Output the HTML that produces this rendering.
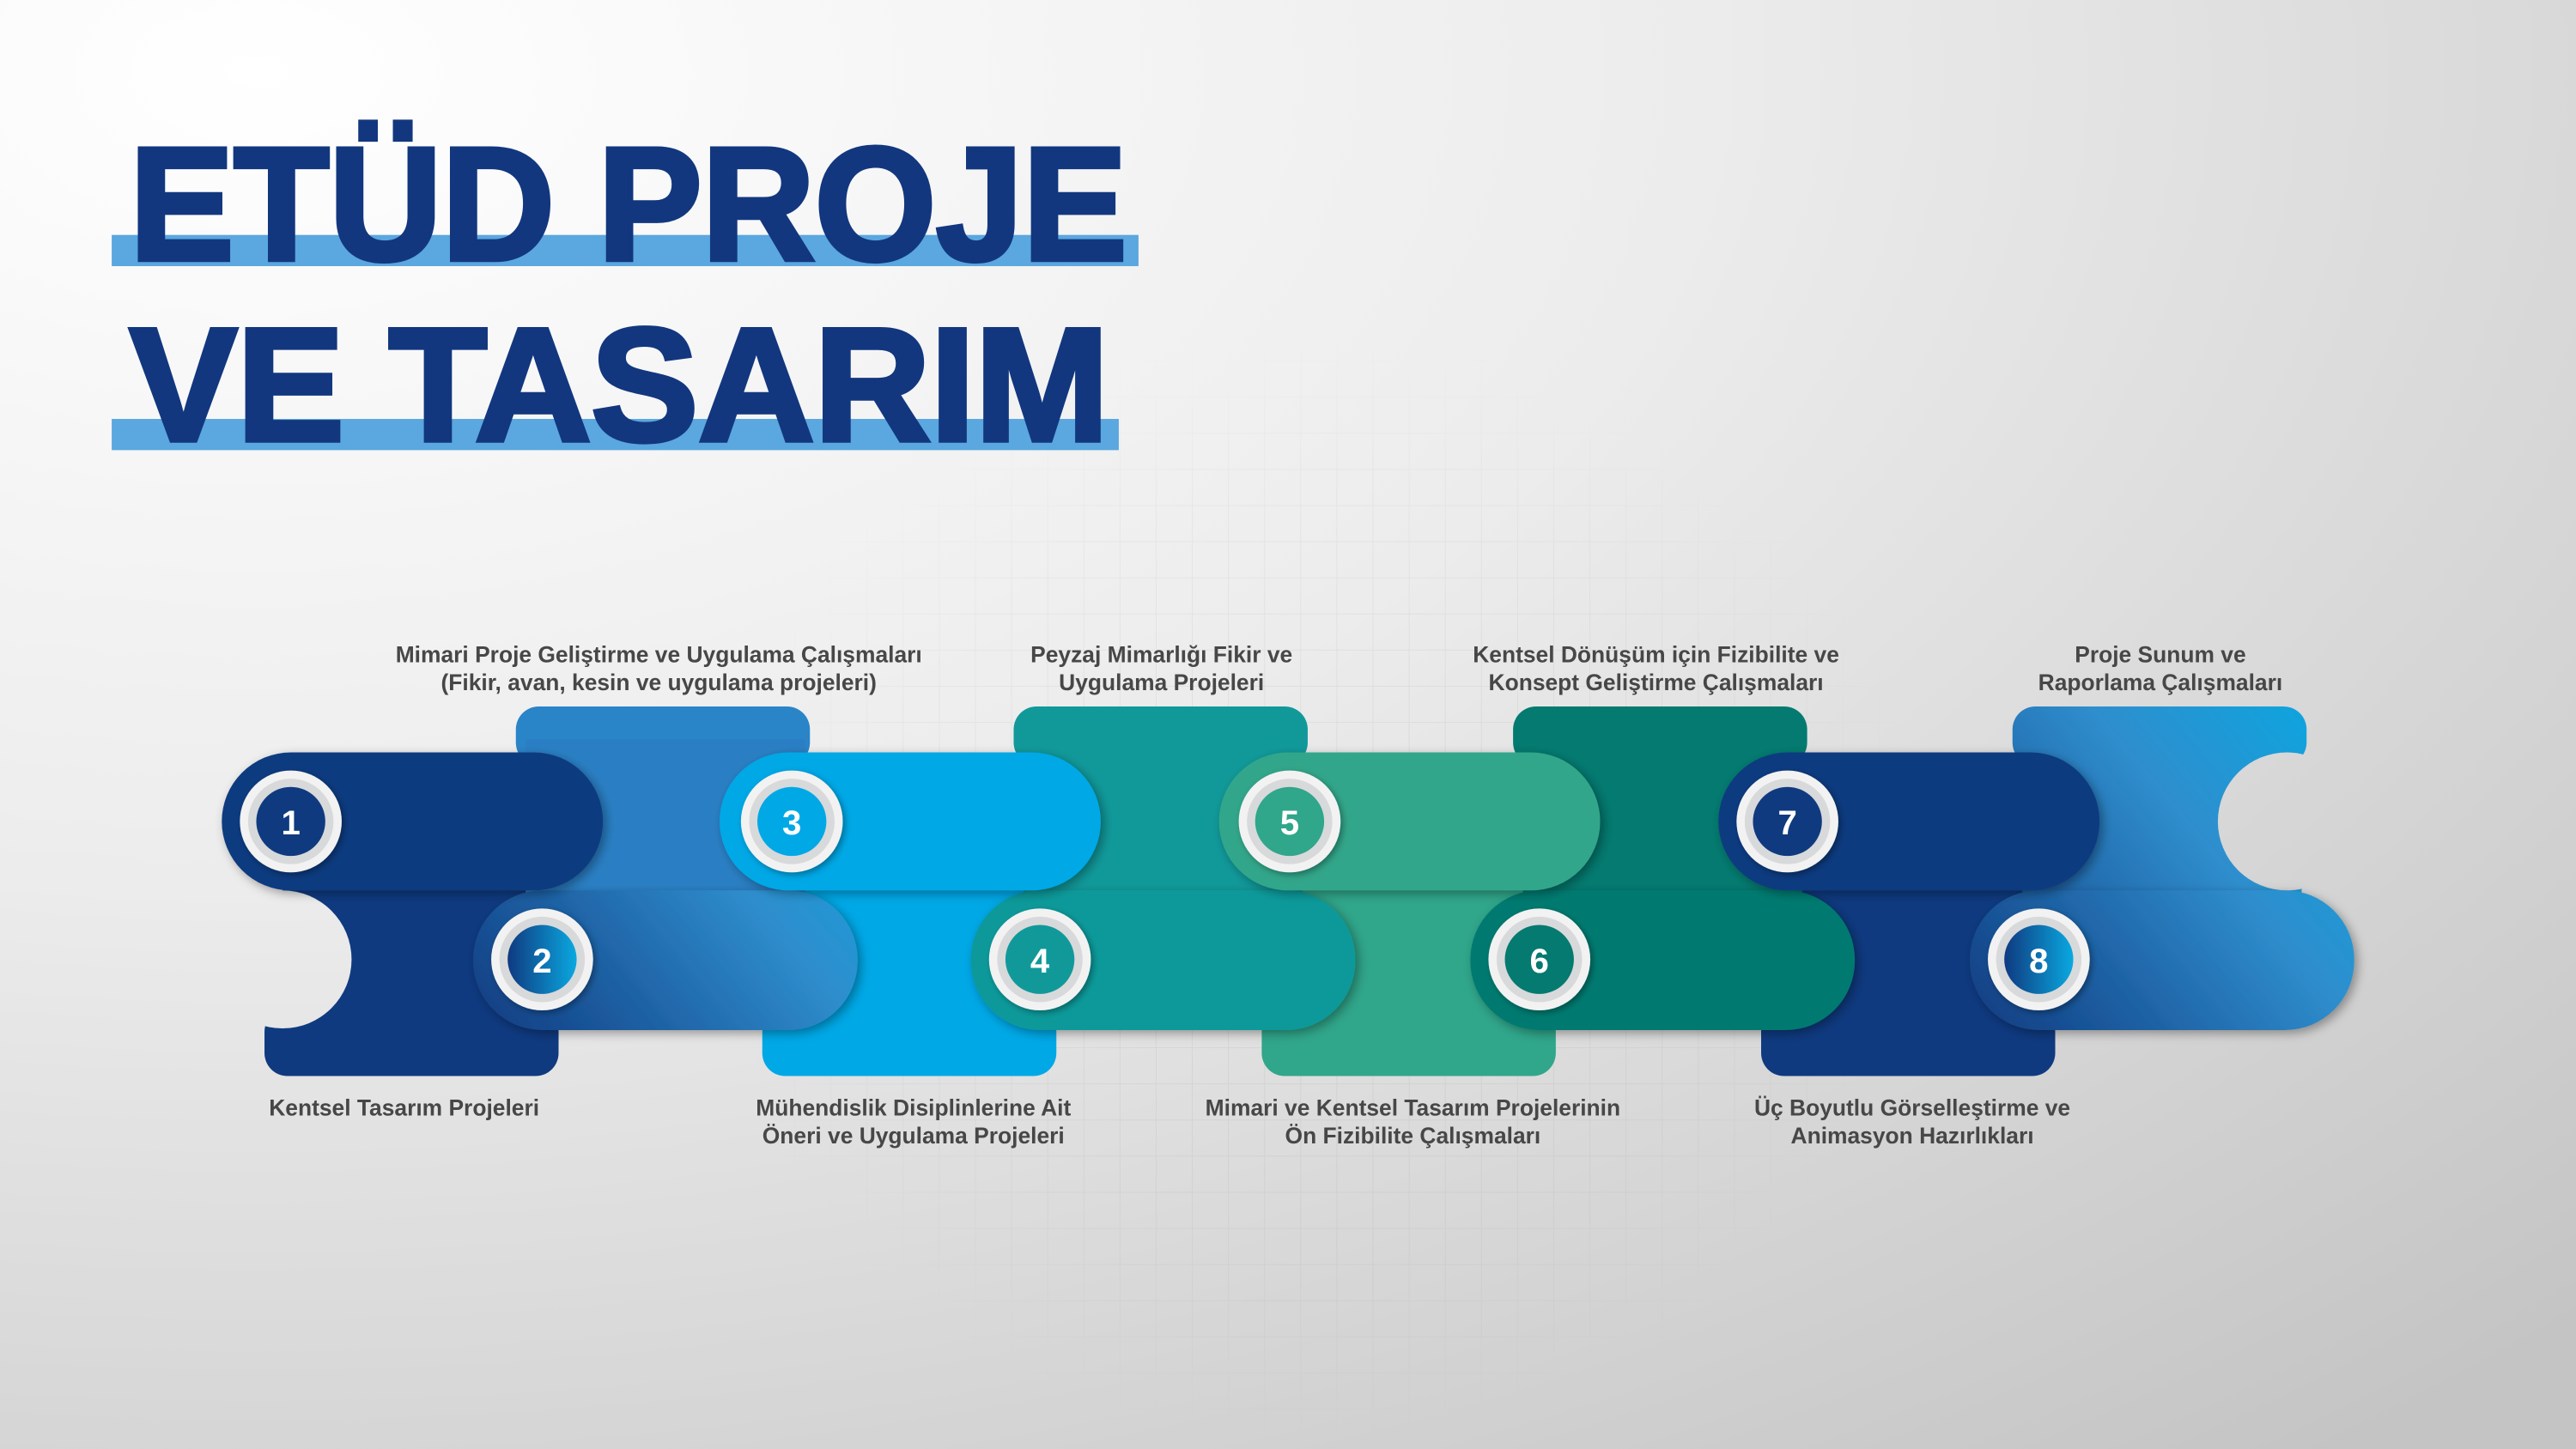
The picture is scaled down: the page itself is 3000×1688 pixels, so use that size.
<!DOCTYPE html>
<html><head><meta charset="utf-8"><style>
html,body{margin:0;padding:0;background:#fff}
svg{display:block}
</style></head><body>
<svg width="3000" height="1688" viewBox="0 0 1568 882" preserveAspectRatio="none" xmlns="http://www.w3.org/2000/svg">
<defs>
<radialGradient id="bg" cx="0.1" cy="0.05" r="1.25" gradientUnits="objectBoundingBox">
<stop offset="0" stop-color="#ffffff"/><stop offset="0.45" stop-color="#ececec"/><stop offset="1" stop-color="#c4c4c4"/>
</radialGradient>
<pattern id="grid" width="22" height="22" patternUnits="userSpaceOnUse">
<path d="M22 0V22M0 22H22" stroke="#000" stroke-opacity="0.06" stroke-width="1" fill="none"/>
</pattern>
<radialGradient id="gm" cx="0.5" cy="0.5" r="0.5"><stop offset="0" stop-color="#fff"/><stop offset="0.7" stop-color="#fff" stop-opacity="0.6"/><stop offset="1" stop-color="#fff" stop-opacity="0"/></radialGradient>
<mask id="gridmask" maskUnits="userSpaceOnUse" x="0" y="0" width="1568" height="882"><ellipse cx="800" cy="540" rx="380" ry="340" fill="url(#gm)"/></mask>
<filter id="sh" x="-20%" y="-30%" width="140%" height="160%"><feDropShadow dx="2" dy="2" stdDeviation="3" flood-color="#000" flood-opacity="0.35"/></filter>
<filter id="csh" x="-30%" y="-30%" width="160%" height="160%"><feDropShadow dx="1.5" dy="1.5" stdDeviation="2" flood-color="#000" flood-opacity="0.35"/></filter>
<linearGradient id="g2" gradientUnits="userSpaceOnUse" x1="288" y1="627" x2="522" y2="430"><stop offset="0" stop-color="#0f3a80"/><stop offset="0.6" stop-color="#2f8ecd"/><stop offset="1" stop-color="#07a9e2"/></linearGradient>
<linearGradient id="g8" gradientUnits="userSpaceOnUse" x1="1199" y1="627" x2="1433" y2="430"><stop offset="0" stop-color="#0f3a80"/><stop offset="0.6" stop-color="#2f8ecd"/><stop offset="1" stop-color="#07a9e2"/></linearGradient>
<linearGradient id="c2" x1="0" y1="0" x2="1" y2="0"><stop offset="0" stop-color="#0f3a80"/><stop offset="1" stop-color="#0aa8e0"/></linearGradient>
<mask id="n1" maskUnits="userSpaceOnUse" x="0" y="0" width="1568" height="882"><rect width="1568" height="882" fill="#fff"/><circle cx="172" cy="584" r="42" fill="#000"/></mask>
<mask id="n8" maskUnits="userSpaceOnUse" x="0" y="0" width="1568" height="882"><rect width="1568" height="882" fill="#fff"/><circle cx="1392" cy="500" r="42" fill="#000"/></mask>
</defs>
<rect width="1568" height="882" fill="url(#bg)"/>
<rect x="420" y="210" width="760" height="670" fill="url(#grid)" mask="url(#gridmask)"/>

<!-- Title -->
<rect x="68" y="143" width="625" height="19" fill="#5ba7df"/>
<text x="79" y="158" font-family="Liberation Sans, sans-serif" font-weight="900" font-size="98" fill="#12377f" textLength="607" lengthAdjust="spacingAndGlyphs" stroke="#12377f" stroke-width="3">ETÜD PROJE</text>
<rect x="68" y="255" width="613" height="19" fill="#5ba7df"/>
<text x="79" y="268" font-family="Liberation Sans, sans-serif" font-weight="900" font-size="98" fill="#12377f" textLength="596" lengthAdjust="spacingAndGlyphs" stroke="#12377f" stroke-width="3">VE TASARIM</text>

<!-- bodies: odd pieces -->
<g mask="url(#n1)">
<rect x="172" y="530" width="155" height="97" fill="#0f3a80"/>
<rect x="161" y="614" width="179" height="41" rx="14" fill="#0f3a80"/>
</g>
<rect x="475" y="530" width="155" height="97" fill="#00a8e6"/>
<rect x="464" y="614" width="179" height="41" rx="14" fill="#00a8e6"/>
<rect x="779" y="530" width="155" height="97" fill="#30a68a"/>
<rect x="768" y="614" width="179" height="41" rx="14" fill="#30a68a"/>
<rect x="1083" y="530" width="155" height="97" fill="#0f3a80"/>
<rect x="1072" y="614" width="179" height="41" rx="14" fill="#0f3a80"/>

<!-- bodies: even pieces -->
<rect x="314" y="430" width="179" height="36" rx="14" fill="#2a84c8"/>
<rect x="320" y="450" width="170" height="95" fill="#2a7fc4"/>
<rect x="617" y="430" width="179" height="36" rx="14" fill="#11999a"/>
<rect x="623" y="450" width="170" height="95" fill="#11999a"/>
<rect x="921" y="430" width="179" height="36" rx="14" fill="#047a70"/>
<rect x="927" y="450" width="170" height="95" fill="#047a70"/>
<g mask="url(#n8)">
<rect x="1225" y="430" width="179" height="36" rx="14" fill="url(#g8)"/>
<rect x="1231" y="450" width="170" height="95" fill="url(#g8)"/>
</g>

<!-- even lower lobes -->
<g filter="url(#sh)">
<rect x="288" y="542" width="234" height="85" rx="42" fill="url(#g2)"/>
<rect x="591" y="542" width="234" height="85" rx="42" fill="#11999a"/>
<rect x="895" y="542" width="234" height="85" rx="42" fill="#047a70"/>
<rect x="1199" y="542" width="234" height="85" rx="42" fill="url(#g8)"/>
</g>
<!-- odd upper lobes -->
<g filter="url(#sh)">
<rect x="135" y="458" width="232" height="84" rx="42" fill="#0f3a80"/>
<rect x="438" y="458" width="232" height="84" rx="42" fill="#00a8e6"/>
<rect x="742" y="458" width="232" height="84" rx="42" fill="#30a68a"/>
<rect x="1046" y="458" width="232" height="84" rx="42" fill="#0f3a80"/>
</g>

<!-- number circles -->
<g font-family="Liberation Sans, sans-serif" font-weight="bold" font-size="21" fill="#fff" text-anchor="middle">
<g filter="url(#csh)">
<circle cx="177" cy="500" r="31" fill="#f2f2f2"/><circle cx="330" cy="584" r="31" fill="#f2f2f2"/>
<circle cx="482" cy="500" r="31" fill="#f2f2f2"/><circle cx="633" cy="584" r="31" fill="#f2f2f2"/>
<circle cx="785" cy="500" r="31" fill="#f2f2f2"/><circle cx="937" cy="584" r="31" fill="#f2f2f2"/>
<circle cx="1088" cy="500" r="31" fill="#f2f2f2"/><circle cx="1241" cy="584" r="31" fill="#f2f2f2"/>
</g>
<g fill="#d8d9db">
<circle cx="177" cy="500" r="26"/><circle cx="330" cy="584" r="26"/><circle cx="482" cy="500" r="26"/><circle cx="633" cy="584" r="26"/>
<circle cx="785" cy="500" r="26"/><circle cx="937" cy="584" r="26"/><circle cx="1088" cy="500" r="26"/><circle cx="1241" cy="584" r="26"/>
</g>
<circle cx="177" cy="500" r="21" fill="#0f3a80"/>
<circle cx="330" cy="584" r="21" fill="url(#c2)"/>
<circle cx="482" cy="500" r="21" fill="#00a8e6"/>
<circle cx="633" cy="584" r="21" fill="#11999a"/>
<circle cx="785" cy="500" r="21" fill="#30a68a"/>
<circle cx="937" cy="584" r="21" fill="#047a70"/>
<circle cx="1088" cy="500" r="21" fill="#0f3a80"/>
<circle cx="1241" cy="584" r="21" fill="url(#c2)"/>
<text x="177" y="508">1</text><text x="330" y="592">2</text><text x="482" y="508">3</text><text x="633" y="592">4</text>
<text x="785" y="508">5</text><text x="937" y="592">6</text><text x="1088" y="508">7</text><text x="1241" y="592">8</text>
</g>

<!-- labels -->
<g font-family="Liberation Sans, sans-serif" font-weight="bold" font-size="13.8" fill="#474747" text-anchor="middle">
<text x="401" y="403">Mimari Proje Geliştirme ve Uygulama Çalışmaları</text>
<text x="401" y="420">(Fikir, avan, kesin ve uygulama projeleri)</text>
<text x="707" y="403">Peyzaj Mimarlığı Fikir ve</text>
<text x="707" y="420">Uygulama Projeleri</text>
<text x="1008" y="403">Kentsel Dönüşüm için Fizibilite ve</text>
<text x="1008" y="420">Konsept Geliştirme Çalışmaları</text>
<text x="1315" y="403">Proje Sunum ve</text>
<text x="1315" y="420">Raporlama Çalışmaları</text>
<text x="246" y="679">Kentsel Tasarım Projeleri</text>
<text x="556" y="679">Mühendislik Disiplinlerine Ait</text>
<text x="556" y="696">Öneri ve Uygulama Projeleri</text>
<text x="860" y="679">Mimari ve Kentsel Tasarım Projelerinin</text>
<text x="860" y="696">Ön Fizibilite Çalışmaları</text>
<text x="1164" y="679">Üç Boyutlu Görselleştirme ve</text>
<text x="1164" y="696">Animasyon Hazırlıkları</text>
</g>
</svg>
</body></html>
